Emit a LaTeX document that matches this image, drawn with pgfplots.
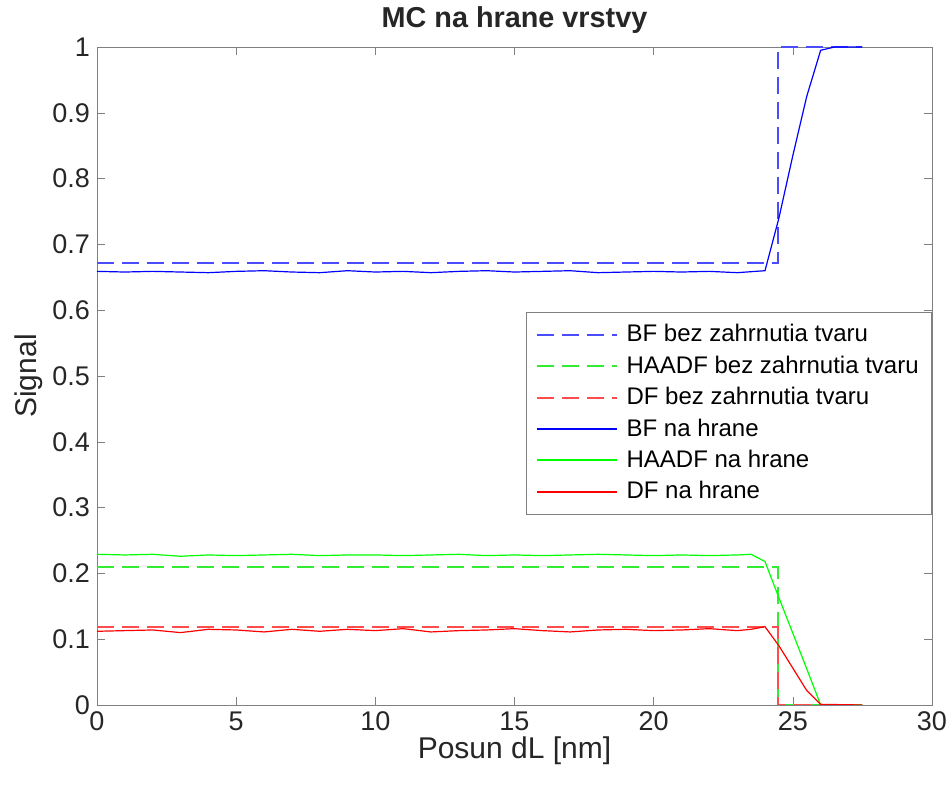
\documentclass[border=0pt]{standalone}
\usepackage{pgfplots}
\pgfplotsset{compat=1.18}
\usepackage{fontspec}
\setmainfont{Liberation Sans}
\definecolor{txtcol}{rgb}{0.15,0.15,0.15}
\definecolor{axiscol}{rgb}{0.5,0.5,0.5}
\definecolor{dashblue}{rgb}{0.3,0.3,1}
\definecolor{dashgreen}{rgb}{0.2,0.92,0.2}
\definecolor{dashred}{rgb}{1,0.3,0.3}
\begin{document}
\begin{tikzpicture}
\useasboundingbox (-48.5pt,-40pt) rectangle (426.5pt,352.5pt);
\begin{axis}[
  at={(0,0)}, anchor=south west,
  scale only axis, width=417.5pt, height=329pt,
  xmin=0, xmax=30, ymin=0, ymax=1,
  xtick={0,5,...,30}, ytick={0,0.1,...,1.0},
  yticklabels={0,0.1,0.2,0.3,0.4,0.5,0.6,0.7,0.8,0.9,1},
  tick align=inside, major tick length=4pt,
  axis line style={axiscol}, tick style={axiscol},
  tick label style={font=\fontsize{13.5}{15}\selectfont, color=txtcol},
  /pgf/number format/assume math mode=true,
  title={\bfseries MC na hrane vrstvy},
  title style={font=\fontsize{14.4}{16}\selectfont, color=txtcol, yshift=-3pt},
  xlabel={Posun dL [nm]}, ylabel={Signal},
  label style={font=\fontsize{15}{17}\selectfont, color=txtcol},
  xlabel style={yshift=4pt}, ylabel style={yshift=-2pt},
  legend style={at={(rel axis cs:0.514,0.597)}, anchor=north west, draw=axiscol, fill=white,
    font=\fontsize{12}{13}\selectfont, row sep=1.5pt, inner xsep=4.5pt, inner ysep=4pt, text=black,
    /tikz/every odd column/.append style={column sep=2.5pt}},
  legend cell align=left,
  legend image code/.code={\draw[#1, line width=1pt] (0pt,0pt) -- (40pt,0pt);},
]
\addplot[color=dashblue, line width=1pt, dash pattern=on 8.5pt off 4pt] coordinates {(0,0.671) (24.45,0.671) (24.45,1) (27.5,1)};
\addlegendentry{BF bez zahrnutia tvaru}
\addplot[color=dashgreen, line width=1pt, dash pattern=on 8.5pt off 4pt] coordinates {(0,0.209) (24.45,0.209) (24.45,0) (27.5,0)};
\addlegendentry{HAADF bez zahrnutia tvaru}
\addplot[color=dashred, line width=1pt, dash pattern=on 8.5pt off 4pt] coordinates {(0,0.118) (24.45,0.118) (24.45,0) (27.5,0)};
\addlegendentry{DF bez zahrnutia tvaru}
\addplot[color=blue, line width=0.6pt] coordinates {
(0,0.659) (1,0.658) (2,0.659) (3,0.658) (4,0.657) (5,0.659) (6,0.660) (7,0.658) (8,0.657) (9,0.660) (10,0.658) (11,0.659) (12,0.657) (13,0.659) (14,0.660) (15,0.658) (16,0.659) (17,0.660) (18,0.657) (19,0.658) (20,0.659) (21,0.658) (22,0.659) (23,0.657) (24,0.660) (24.5,0.740) (25,0.835) (25.5,0.925) (26,0.995) (26.5,1) (27,1) (27.5,1)};
\addlegendentry{BF na hrane}
\addplot[color=green, line width=0.6pt] coordinates {
(0,0.229) (1,0.228) (2,0.229) (3,0.226) (4,0.228) (5,0.227) (6,0.228) (7,0.229) (8,0.227) (9,0.228) (10,0.228) (11,0.227) (12,0.228) (13,0.229) (14,0.227) (15,0.228) (16,0.227) (17,0.228) (18,0.229) (19,0.228) (20,0.227) (21,0.228) (22,0.227) (23,0.228) (23.5,0.229) (24,0.218) (24.5,0.163) (25,0.109) (25.5,0.055) (26,0.0) (27.5,0)};
\addlegendentry{HAADF na hrane}
\addplot[color=red, line width=0.6pt] coordinates {
(0,0.112) (1,0.113) (2,0.114) (3,0.110) (4,0.115) (5,0.114) (6,0.111) (7,0.115) (8,0.112) (9,0.115) (10,0.113) (11,0.116) (12,0.111) (13,0.113) (14,0.114) (15,0.116) (16,0.113) (17,0.111) (18,0.114) (19,0.115) (20,0.113) (21,0.114) (22,0.116) (23,0.113) (23.5,0.115) (24,0.119) (24.5,0.090) (25,0.056) (25.5,0.022) (26,0.001) (27.5,0)};
\addlegendentry{DF na hrane}
\end{axis}
\end{tikzpicture}
\end{document}
